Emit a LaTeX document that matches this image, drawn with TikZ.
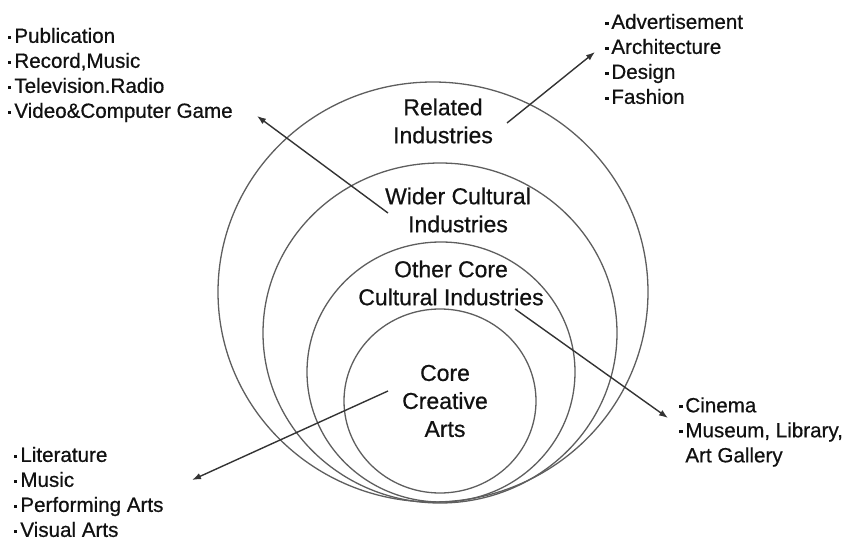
\documentclass[tikz,border=0pt]{standalone}
\usepackage{fontspec}
\setmainfont{Liberation Sans}[FakeBold=0.6]
\usetikzlibrary{arrows.meta}
\definecolor{RingGray}{HTML}{5E5E5E}
\definecolor{ArrowInk}{HTML}{333333}
\definecolor{TextInk}{HTML}{111111}
% small square list mark
\newcommand{\itm}{\raisebox{0.19em}{\rule{0.16em}{0.16em}}\hspace{0.14em}}

\begin{document}
\begin{tikzpicture}[
  x=1pt,y=1pt,
  ring/.style={draw=RingGray,line width=1.3pt},
  zone/.style={align=center,inner sep=0pt,text=TextInk,font=\fontsize{23}{28}\selectfont},
  items/.style={align=left,anchor=west,inner sep=0pt,text=TextInk,font=\fontsize{20.6}{25}\selectfont},
  arr/.style={-{Latex[length=9pt,width=6.5pt]},line width=1.4pt,ArrowInk},
]
\useasboundingbox (0,0) rectangle (849,542);
% nested rings, all resting on the same bottom line
\draw[ring] (433,250) ellipse [x radius=215,y radius=210];
\draw[ring] (440,209) ellipse [x radius=177,y radius=170];
\draw[ring] (441,170) ellipse [x radius=134,y radius=130];
\draw[ring] (440,141) ellipse [x radius=96,y radius=92];
% ring names
\node[zone] (related) at (443,421) {Related\\Industries};
\node[zone] (wider) at (458,332) {Wider Cultural\\Industries};
\node[zone] (othercore) at (451,259) {Other Core\\Cultural Industries};
\node[zone] (core) at (445,141) {Core\\Creative\\Arts};
% example lists
\node[items] (widerlist) at (8,467) {\itm Publication\\\itm Record,Music\\\itm Television.Radio\\\itm Video\&Computer Game};
\node[items] (relatedlist) at (605,483) {\itm Advertisement\\\itm Architecture\\\itm Design\\\itm Fashion};
\node[items] (corelist) at (14,50) {\itm Literature\\\itm Music\\\itm Performing Arts\\\itm Visual Arts};
\node[items] (otherlist) at (679,110) {\itm Cinema\\\itm Museum, Library,\\\phantom{\itm}Art Gallery};
% arrow ends
\coordinate (relA) at (507,419);
\coordinate (relB) at (595,490);
\coordinate (widA) at (388,329);
\coordinate (widB) at (257,426);
\coordinate (othA) at (515,233);
\coordinate (othB) at (668,124);
\coordinate (corA) at (388,151);
\coordinate (corB) at (192,62);
\draw[arr] (relA) -- (relB);
\draw[arr] (widA) -- (widB);
\draw[arr] (othA) -- (othB);
\draw[arr] (corA) -- (corB);
\end{tikzpicture}
\end{document}
